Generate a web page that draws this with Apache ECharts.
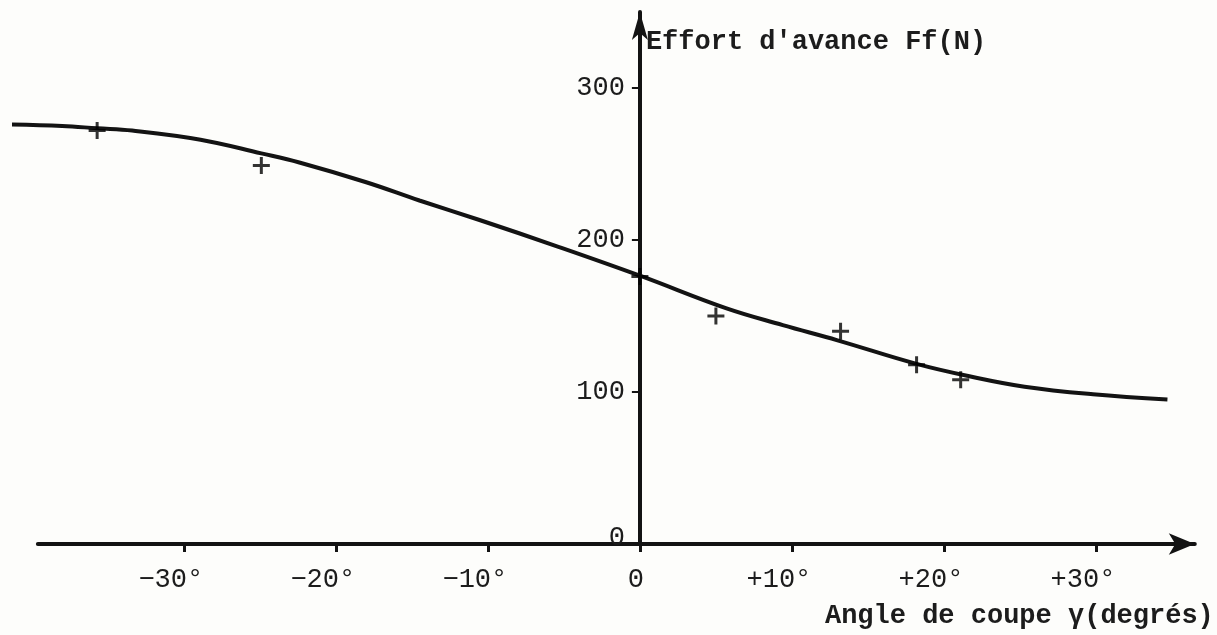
<!DOCTYPE html>
<html>
<head>
<meta charset="utf-8">
<script src="https://cdn.jsdelivr.net/npm/echarts@6.0.0/dist/echarts.min.js"></script>
<style>
html,body{margin:0;padding:0;background:#fdfdfb;}
#chart{width:1217px;height:635px;}
</style>
</head>
<body>
<div id="chart"></div>
<script>
// Fitted curve
const curveAngle = [-41.3, -38, -35.7, -33.4, -28.9, -24.9, -22.4, -18, -14.5, -10.5, -5.5, 0, 5.7, 9.4, 13, 18.2, 21.6, 25.3, 29.8, 34.7];
const curveForce = [276, 275, 273.5, 272, 266, 257, 251, 238, 226, 213, 196, 176.5, 155, 144, 134, 118.5, 110.5, 103.5, 98.5, 95];
// Measured points (+ marks)
const measuredAngle = [-35.7, -24.9, 0, 5.0, 13.2, 18.2, 21.1];
const measuredForce = [272, 249, 176, 150, 140, 118, 108];
// Tick labels
const xTickValues = [-30, -20, -10, 0, 10, 20, 30];
const xTickLabels = ['\u221230\u00b0', '\u221220\u00b0', '\u221210\u00b0', '0', '+10\u00b0', '+20\u00b0', '+30\u00b0'];
const yTickValues = [0, 100, 200, 300];
const yTickLabels = ['0', '100', '200', '300'];
const xAxisTitle = 'Angle de coupe \u03b3(degr\u00e9s)';
const yAxisTitle = "Effort d'avance Ff(N)";

const FONT = "'Liberation Mono','DejaVu Sans Mono',monospace";
const INK = '#131313';
const TEXT = '#1c1c1c';

// axis extents (degrees / newtons)
const X_MIN = -41.3, X_MAX = 36.5, X_LINE_START = -39.6, Y_MIN = 0, Y_MAX = 350;
const GRID_L = 12, GRID_R = 22.2, GRID_T = 12, GRID_B = 91;
const plotW = 1217 - GRID_L - GRID_R;
const toLeft = v => GRID_L + plotW * (v - X_MIN) / (X_MAX - X_MIN);

const chart = echarts.init(document.getElementById('chart'), null, {renderer: 'canvas'});
const plus = 'path://M7,0H10V7H17V10H10V17H7V10H0V7H7Z';

chart.setOption({
  animation: false,
  backgroundColor: '#fdfdfb',
  grid: [
    {left: GRID_L, right: GRID_R, top: GRID_T, bottom: GRID_B, containLabel: false, outerBoundsMode: 'none'},
    {left: toLeft(0), right: GRID_R, top: GRID_T, bottom: GRID_B, containLabel: false, outerBoundsMode: 'none'},
    {left: toLeft(X_LINE_START), right: GRID_R, top: GRID_T, bottom: GRID_B, containLabel: false, outerBoundsMode: 'none'}
  ],
  xAxis: [{
    gridIndex: 0,
    type: 'value', min: X_MIN, max: X_MAX,
    axisLine: {show: false},
    axisTick: {show: true, inside: false, length: 8, lineStyle: {color: INK, width: 3}, customValues: xTickValues},
    axisLabel: {
      customValues: xTickValues, margin: 22,
      color: TEXT, fontFamily: FONT, fontSize: 27,
      formatter: function (v) {
        const i = xTickValues.indexOf(v);
        if (i < 0) return '';
        return v === 0 ? '{z|' + xTickLabels[i] + '}' : '{d|' + xTickLabels[i] + '}';
      },
      rich: {
        d: {color: TEXT, fontFamily: FONT, fontSize: 27, padding: [0, 26, 0, 0]},
        z: {color: TEXT, fontFamily: FONT, fontSize: 27, padding: [0, 8, 0, 0]}
      }
    },
    splitLine: {show: false},
    name: xAxisTitle, nameLocation: 'end', nameGap: 19,
    nameTextStyle: {color: TEXT, fontFamily: FONT, fontSize: 27, fontWeight: 'bold', align: 'right', verticalAlign: 'top', padding: [59, 0, 0, 0]}
  }, {
    gridIndex: 1, type: 'value', min: 0, max: 1, show: false
  }, {
    gridIndex: 2, type: 'value', min: X_LINE_START, max: X_MAX,
    axisLine: {show: true, onZero: false, lineStyle: {color: INK, width: 4}, symbol: ['none', 'arrow'], symbolSize: [16, 26]},
    axisTick: {show: false}, axisLabel: {show: false}, splitLine: {show: false}
  }],
  yAxis: [{
    gridIndex: 0, type: 'value', min: Y_MIN, max: Y_MAX, show: false
  }, {
    gridIndex: 1,
    type: 'value', min: Y_MIN, max: Y_MAX, interval: 100,
    axisLine: {show: true, onZero: false, lineStyle: {color: INK, width: 4}, symbol: ['none', 'arrow'], symbolSize: [12, 28]},
    axisTick: {show: true, inside: false, length: 8, lineStyle: {color: INK, width: 2}, customValues: [100, 200, 300]},
    axisLabel: {
      showMaxLabel: false, margin: 15,
      color: TEXT, fontFamily: FONT, fontSize: 27,
      formatter: function (v) {
        const i = yTickValues.indexOf(v);
        if (i < 0) return '';
        return v === 0 ? '{z|' + yTickLabels[i] + '}' : yTickLabels[i];
      },
      rich: {z: {color: TEXT, fontFamily: FONT, fontSize: 27, padding: [0, 0, 12, 0]}}
    },
    splitLine: {show: false},
    name: yAxisTitle, nameLocation: 'end', nameGap: -30,
    nameTextStyle: {color: TEXT, fontFamily: FONT, fontSize: 27, fontWeight: 'bold', align: 'left', verticalAlign: 'middle', padding: [0, 0, 0, 6]}
  }, {
    gridIndex: 2, type: 'value', min: Y_MIN, max: Y_MAX, show: false
  }],
  series: [
    {
      type: 'line', name: 'courbe', xAxisIndex: 0, yAxisIndex: 0,
      data: curveAngle.map((x, i) => [x, curveForce[i]]),
      smooth: 0.4, symbol: 'none', showSymbol: false, clip: false, silent: true,
      lineStyle: {color: INK, width: 4}, z: 3
    },
    {
      type: 'scatter', name: 'mesures', xAxisIndex: 0, yAxisIndex: 0,
      data: measuredAngle.map((x, i) => [x, measuredForce[i]]),
      symbol: plus, symbolSize: 17, clip: false,
      itemStyle: {color: '#000000'}, z: 4
    }
  ]
});
</script>
</body>
</html>
